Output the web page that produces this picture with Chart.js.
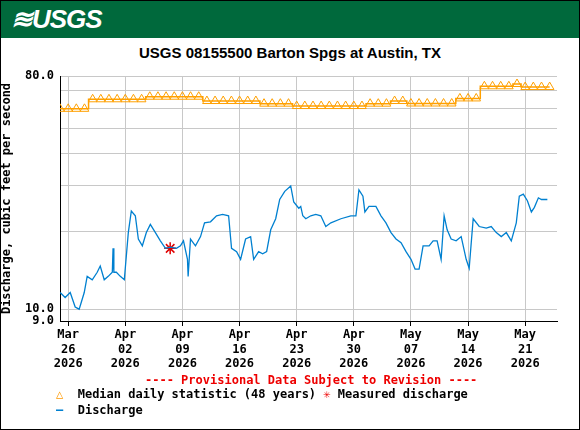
<!DOCTYPE html>
<html>
<head>
<meta charset="utf-8">
<script src="https://cdn.jsdelivr.net/npm/chart.js@4"></script>
<style>
body{margin:0;width:580px;height:430px;background:#fff;position:relative;overflow:hidden;font-family:"DejaVu Sans Mono",monospace}
#frame{position:absolute;left:0;top:0;width:578px;height:428px;border:1px solid #000}
#head{position:absolute;left:1px;top:1px;width:578px;height:37px;background:#00693c}
#logo{position:absolute;left:10px;top:3px;color:#fff;font:italic bold 26px "Liberation Sans",sans-serif;letter-spacing:-1px}
#title{position:absolute;left:0;width:580px;top:44px;text-align:center;font:bold 15px "Liberation Sans",sans-serif}
#wrap{position:absolute;left:0;top:60px;width:580px;height:315px}
.t{position:absolute;font-weight:bold;font-size:12px}
</style>
</head>
<body>
<div id="frame"></div>
<div id="head"><div id="logo">≋USGS</div></div>
<div id="title">USGS 08155500 Barton Spgs at Austin, TX</div>
<div id="wrap"><canvas id="myChart"></canvas></div>
<div class="t" style="left:145px;top:373px;color:#e00">---- Provisional Data Subject to Revision ----</div>
<div class="t" style="left:56px;top:387px"><span style="color:#f90">△</span>&nbsp; Median daily statistic (48 years) <span style="color:#e00">✳</span> Measured discharge</div>
<div class="t" style="left:56px;top:403px"><span style="color:#0080d0">—</span>&nbsp; Discharge</div>
<script>
// days since Mar 26 2026
var tickDays = [0, 7, 14, 21, 28, 35, 42, 49, 56];
var tickMonths = ["Mar", "Apr", "Apr", "Apr", "Apr", "Apr", "May", "May", "May"];
var tickDates = ["26", "02", "09", "16", "23", "30", "07", "14", "21"];
var yTicks = [9, 10, 20, 30, 40, 50, 60, 70, 80];

var medianDays = [];
for (var i = -1; i <= 59; i++) medianDays.push(i);
var medianVals = [59.7,59.7,59.7,59.7, 65,65,65,65,65,65,65, 66.5,66.5,66.5,66.5,66.5,66.5,66.5,
  64,64,64,64,64,64,64, 62.5,62.5,62.5,62.5, 61.2,61.2,61.2,61.2,61.2,61.2,61.2,61.2,61.2,
  62.5,62.5,62.5, 64,64, 62.6,62.6,62.6,62.6,62.6,62.6, 65.5,65.5,65.5, 73,73,73,73, 74.5,
  72.5,72.5,72.5,72.5];

var qDays = [-0.98,-0.37,0.25,0.86,1.35,1.97,2.33,2.95,3.56,3.93,4.42,4.91,5.41,5.5,5.6,5.9,6.39,6.88,
  7.37,7.74,8.23,8.6,9.09,9.58,10.07,10.69,11.3,11.92,12.53,13.27,13.76,14.13,14.62,14.7,14.99,15.6,
  16.22,16.71,17.44,18.18,18.92,19.66,20.02,20.64,21.13,21.74,22.36,22.73,23.34,23.83,24.32,24.82,
  25.43,25.92,26.54,27.27,27.64,28.26,28.5,28.75,29.12,29.73,30.34,30.96,31.57,32.19,33.42,34.64,
  35.26,35.63,36.12,36.36,36.86,37.71,38.33,38.94,39.56,40.17,40.79,41.4,42.01,42.51,43,43.49,44.23,
  44.72,45.21,45.7,46.07,46.44,46.93,47.54,48.16,48.77,49.14,49.63,50.37,51.23,51.84,52.46,53.07,
  53.69,54.3,54.91,55.28,55.77,56.27,56.76,57.13,57.62,57.99,58.72];
var qVals = [11.6,11.1,11.6,10.2,10.0,11.6,13.4,13.0,13.9,14.7,13.0,13.4,13.9,17.2,13.9,13.9,13.4,13.0,
  19.8,24,23,18.7,17.6,19.8,21.3,19.8,18.4,17.2,17.4,17.2,17.6,18.4,15.6,13.4,18.7,17.6,
  19.1,21.6,21.8,23,23.3,23,17.2,16.7,15.6,18.7,19.1,15.6,16.7,16.4,16.7,20.3,
  22.4,26.6,28.6,30,26,24.6,25,23,22.4,23,23.3,23,20.9,21.6,22.4,23,
  23,29,27.4,23.8,25,25,23,21.6,19.8,18.7,18.1,16.7,15.6,14.3,14.3,17.6,17.6,
  18.4,18.4,15.6,23,20.3,18.7,18.4,19.1,15.6,14.4,22.4,20.9,20.6,20.9,19.8,19.1,
  19.8,18.4,21.6,27.4,27.9,26.3,23.8,24.8,27.0,26.6,26.6];

var measDays = [12.5];
var measVals = [17.2];

function pts(xs, ys) {
  return xs.map(function (x, i) { return {x: x, y: ys[i]}; });
}

var mono = {family: "DejaVu Sans Mono", size: 12, weight: "bold"};
var ctx = document.getElementById("myChart").getContext('2d');
var myChart = new Chart(ctx, {
  type: 'line',
  data: {
    datasets: [{
      data: pts(qDays, qVals),
      borderColor: '#0080d0', borderWidth: 1.3, pointRadius: 0, tension: 0
    }, {
      data: pts(medianDays, medianVals),
      borderColor: '#ffa000', borderWidth: 1.5, stepped: 'middle',
      pointStyle: 'triangle', pointRadius: 5, pointBorderWidth: 1,
      pointBackgroundColor: 'rgba(0,0,0,0)', pointBorderColor: '#ffa000'
    }, {
      data: pts(measDays, measVals),
      showLine: false, pointStyle: 'star', pointRadius: 6,
      pointBorderColor: '#e00000', pointBorderWidth: 1.5
    }]
  },
  options: {
    responsive: true, maintainAspectRatio: false, animation: false,
    layout: {padding: {top: 16, right: 23, left: 0, bottom: 0}},
    plugins: {legend: {display: false}, tooltip: {enabled: false}},
    scales: {
      x: {
        type: 'linear', min: -1, max: 59.9,
        afterBuildTicks: function (s) { s.ticks = tickDays.map(function (v) { return {value: v}; }); },
        afterFit: function (s) { s.height = 54; },
        ticks: {
          color: '#000', font: mono, maxRotation: 0, autoSkip: false, padding: 2,
          callback: function (v) {
            var i = tickDays.indexOf(v);
            return [tickMonths[i], tickDates[i], "2026"];
          }
        },
        grid: {color: '#c8c8c8', tickLength: 5, tickColor: '#000'},
        border: {color: '#000', width: 1}
      },
      y: {
        type: 'logarithmic', min: 9, max: 80,
        afterBuildTicks: function (s) { s.ticks = yTicks.map(function (v) { return {value: v}; }); },
        afterFit: function (s) { s.width = 60; },
        ticks: {
          color: '#000', font: mono, autoSkip: false, padding: 6,
          callback: function (v) { return (v == 9 || v == 10 || v == 80) ? v.toFixed(1) : ''; }
        },
        title: {display: true, text: 'Discharge, cubic feet per second', color: '#000', font: mono, padding: 0},
        grid: {color: '#c8c8c8', tickLength: 0},
        border: {color: '#000', width: 1}
      }
    }
  }
});
</script>
</body>
</html>
